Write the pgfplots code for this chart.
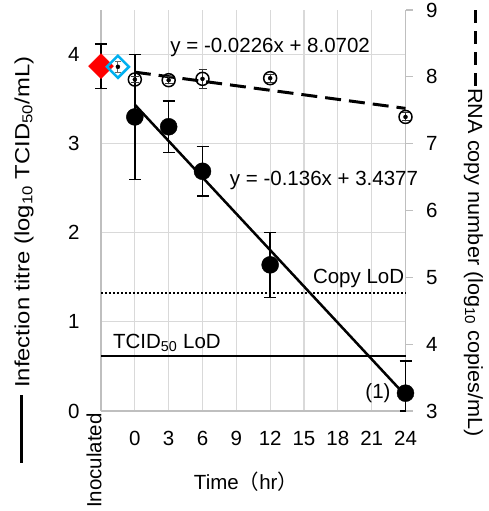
\documentclass[border=0pt]{standalone}
\usepackage{fontspec}
\setmainfont{Liberation Sans}
\newfontfamily\cjk{Noto Sans CJK JP}
\usepackage{graphicx}
\usepackage{pgfplots}
\pgfplotsset{compat=1.18}
\usepackage{pgfplotstable}
\definecolor{gridgray}{HTML}{D9D9D9}
\definecolor{axgray}{HTML}{BFBFBF}
\definecolor{diablue}{HTML}{00B0F0}

\pgfplotstableread{
x y ep em
0 3.30 0.70 0.70
3 3.19 0.29 0.29
6 2.69 0.28 0.28
12 1.64 0.365 0.365
24 0.20 0.36 0.20
}\titre
\pgfplotstableread{
x y e
0 7.96 0.05
3 7.95 0.05
6 7.97 0.14
12 7.98 0.06
24 7.40 0.06
}\rna
\pgfplotstableread{
x y
0 3.4377
24 0.1737
}\titrefit
\pgfplotstableread{
x y
0 8.0702
24 7.5278
}\rnafit

\newcommand\fs{\fontsize{20.5}{24}\selectfont}
\newcommand\dsh{\rule[0.3em]{12.3pt}{3pt}}

\begin{document}
\begin{tikzpicture}
\begin{axis}[name=ax, scale only axis, width=304.5pt, height=401pt,
 xmin=-3, xmax=24, ymin=0, ymax=4.5,
 axis x line*=bottom, axis y line*=left,
 axis line style={axgray, line width=1.2pt, -},
 xtick={-3,0,3,...,24}, xticklabels={{},0,3,6,9,12,15,18,21,24},
 ytick={0,1,2,3,4},
 major tick length=0pt,
 xmajorgrids, ymajorgrids, grid style={gridgray, line width=1.2pt},
 extra x ticks={24}, extra x tick labels={},
 extra x tick style={grid style={axgray, line width=1.2pt}},
 ticklabel style={font=\fs}, /pgf/number format/assume math mode=true,
 yticklabel style={xshift=-18pt},
 xticklabel style={yshift=-17pt},
 clip=false,
]
\addplot[black, line width=1.5pt] coordinates {(-3,0.62) (24,0.62)};
\addplot[black, line width=2pt, dash pattern=on 2pt off 2pt] coordinates {(-3,1.32) (24,1.32)};
\addplot[black, line width=2.5pt] table {\titrefit};
\addplot[only marks, mark=*, mark size=8.5pt, mark options={fill=black,draw=black},
  error bars/.cd, y dir=both, y explicit, error bar style={line width=1.5pt, black},
  error mark options={rotate=90, mark size=6pt, line width=1.5pt, black}]
  table[x=x,y=y,y error plus=ep,y error minus=em]{\titre};
\addplot[only marks, mark=square*, mark size=8.8pt, mark options={rotate=45, fill=red, draw=red},
  error bars/.cd, y dir=both, y explicit, error bar style={line width=1.5pt, black},
  error mark options={rotate=90, mark size=6pt, line width=1.5pt, black}]
  coordinates {(-3,3.87) +- (0,0.25)};
\node[font=\fs] at (axis cs:12,4.085) {y = -0.0226x + 8.0702};
\node[font=\fs] at (axis cs:16.77,2.59) {y = -0.136x + 3.4377};
\node[font=\fs, anchor=east, inner sep=0] at (axis cs:23.9,1.49) {Copy LoD};
\node[font=\fs, anchor=west, inner sep=0] at (axis cs:-1.94,0.76) {TCID\textsubscript{50} LoD};
\node[font=\fs] at (axis cs:21.56,0.2) {(1)};
\end{axis}
\begin{axis}[scale only axis, width=304.5pt, height=401pt,
 xmin=-3, xmax=24, ymin=3, ymax=9,
 axis x line=none, axis y line*=right,
 axis line style={draw=none},
 ytick={3,4,5,6,7,8,9}, tick align=outside, major tick length=7pt,
 tick style={axgray, line width=1.2pt},
 yticklabel style={font=\fs, xshift=10pt}, /pgf/number format/assume math mode=true,
 clip=false,
]
\addplot[black, line width=3pt, dash pattern=on 16pt off 8pt] table {\rnafit};
\addplot[only marks, mark=o, mark size=6.5pt, mark options={fill=white, draw=black, line width=1.5pt}]
  table[x=x,y=y]{\rna};
\addplot[only marks, mark=none,
  error bars/.cd, y dir=both, y explicit, error bar style={line width=1pt, black!80},
  error mark options={rotate=90, mark size=4pt, line width=1pt, black!80}]
  table[x=x,y=y,y error=e]{\rna};
\addplot[only marks, mark=square, mark size=7.8pt, mark options={rotate=45, draw=diablue, line width=2.5pt}]
  coordinates {(-1.5,8.15)};
\addplot[only marks, mark=none,
  error bars/.cd, y dir=both, y explicit, error bar style={line width=1pt, black!60},
  error mark options={rotate=90, mark size=3pt, line width=1pt, black!60}]
  coordinates {(-1.5,8.15) +- (0,0.08)};
\end{axis}
\node[rotate=90, anchor=west, inner sep=0, font=\fs] at ([xshift=-77pt,yshift=-52pt]ax.south west)
 {\scalebox{1.163}[1]{\rule[0.3em]{58.5pt}{3pt}\hspace{6pt}Infection titre (log\textsubscript{10} TCID\textsubscript{50}/mL)}};
\node[rotate=-90, anchor=west, inner sep=0, font=\fs] at ([xshift=68pt]ax.north east)
 {\scalebox{1.057}[1]{\dsh\hspace{7.6pt}\dsh\hspace{7.6pt}\dsh\hspace{7.6pt}\dsh\hspace{1.9pt}RNA copy number (log\textsubscript{10} copies/mL)}};
\node[rotate=90, anchor=east, inner sep=0, font=\fs] at ([xshift=-7pt,yshift=-2pt]ax.south west) {Inoculated};
\node[font=\fs] at ([xshift=145pt,yshift=-71pt]ax.south west) {Time{\cjk （}hr{\cjk ）}};
\pgfresetboundingbox
\path[use as bounding box] ([xshift=-101pt,yshift=-100pt]ax.south west) rectangle ([xshift=387pt,yshift=411pt]ax.south west);
\end{tikzpicture}
\end{document}
